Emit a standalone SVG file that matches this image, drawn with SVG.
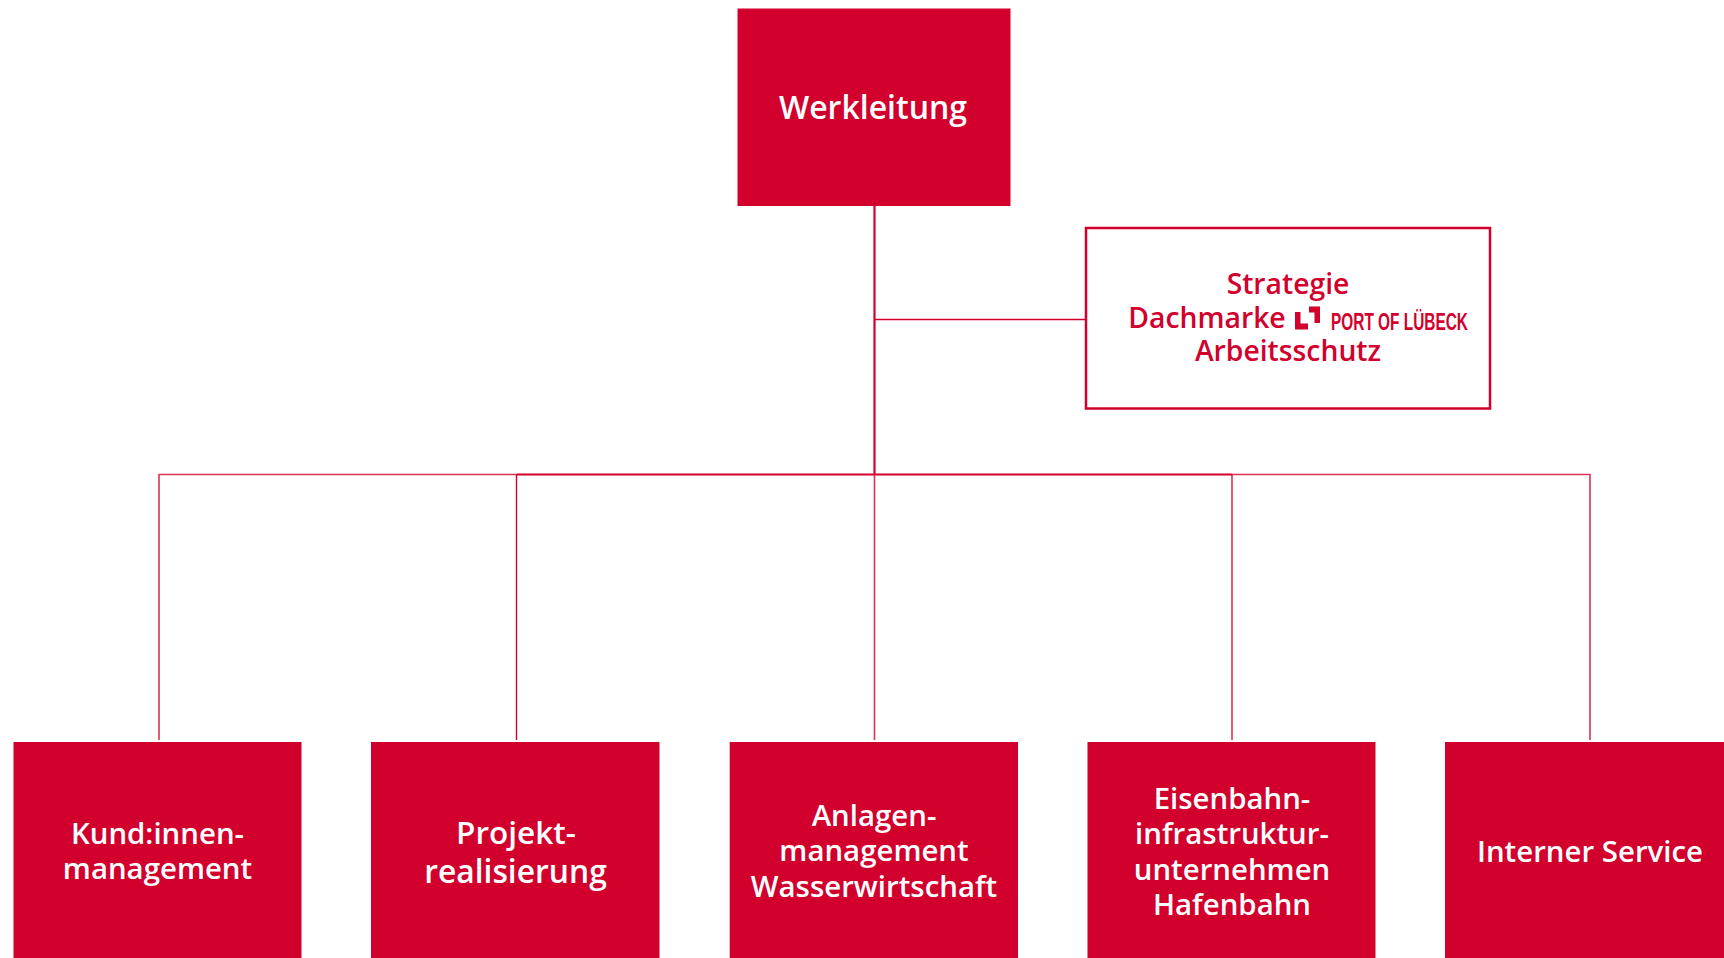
<svg xmlns="http://www.w3.org/2000/svg" width="1724" height="958" viewBox="0 0 1724 958">
<style>
.box{fill:#d2002d}
.t{font-family:"Open Sans","Noto Sans",sans-serif;font-weight:600;text-anchor:middle}
.w{fill:#fff;font-size:29.4px}
.r{fill:#d2002d;font-size:28.3px}
.c{stroke:#d2002d;fill:none}
.thin{opacity:.8}
</style>
<rect width="1724" height="958" fill="#fff"/>
<g id="connectors">
<path class="c" stroke-width="2.2" d="M874.500 206V475"/>
<path class="c" stroke-width="1.3" d="M875 319.500H1086"/>
<path class="c" stroke-width="1.8" d="M516.500 474.500H1232.500"/>
<path class="c thin" stroke-width="1.6" d="M159 740V474.500H516.500M1232.500 474.500H1590V740"/>
<path class="c" stroke-width="1.4" d="M516.500 474.500V740"/>
<path class="c thin" stroke-width="1.6" d="M874.500 475V740M1232 474.500V740"/>
</g>
<g id="werkleitung">
<rect class="box" x="737.500" y="8.500" width="273" height="197.500"/>
<text class="t w" x="873" y="118.500" style="font-size:32px">Werkleitung</text>
</g>
<g id="stabsstelle">
<rect x="1086" y="228" width="404" height="180.500" fill="#fff" stroke="#d2002d" stroke-width="2.500"/>
<text class="t r" x="1288" y="294">Strategie</text>
<text class="t r" x="1207" y="327.500">Dachmarke</text>
<text class="t r" x="1288" y="361">Arbeitsschutz</text>
<g id="logo">
<path fill="#d2002d" d="M1295 312H1300.500V323.500H1308V329.500H1295ZM1309 306.500H1320V323H1314.500V312.500H1309Z"/>
<text x="1331" y="329.500" textLength="137" lengthAdjust="spacingAndGlyphs" style="font-family:'Liberation Sans',sans-serif;font-weight:700;font-size:24.500px;fill:#d2002d">PORT OF LÜBECK</text>
</g>
</g>
<g id="kundinnen">
<rect class="box" x="13.500" y="742" width="288" height="216"/>
<text class="t w" x="157.500" y="844">Kund:innen-</text>
<text class="t w" x="157.500" y="878.500">management</text>
</g>
<g id="projekt">
<rect class="box" x="371" y="742" width="288.500" height="216"/>
<text class="t w" x="516" y="844" style="font-size:31.500px">Projekt-</text>
<text class="t w" x="515.500" y="882.500" style="font-size:31.800px">realisierung</text>
</g>
<g id="anlagen">
<rect class="box" x="729.700" y="742" width="288.300" height="216"/>
<text class="t w" x="874" y="826">Anlagen-</text>
<text class="t w" x="874" y="861">management</text>
<text class="t w" x="874" y="896.500">Wasserwirtschaft</text>
</g>
<g id="eisenbahn">
<rect class="box" x="1087.500" y="742" width="288" height="216"/>
<text class="t w" x="1232" y="809">Eisenbahn-</text>
<text class="t w" x="1232" y="844">infrastruktur-</text>
<text class="t w" x="1232" y="880">unternehmen</text>
<text class="t w" x="1232" y="915">Hafenbahn</text>
</g>
<g id="service">
<rect class="box" x="1445" y="742" width="279" height="216"/>
<text class="t w" x="1590" y="862">Interner Service</text>
</g>
</svg>
